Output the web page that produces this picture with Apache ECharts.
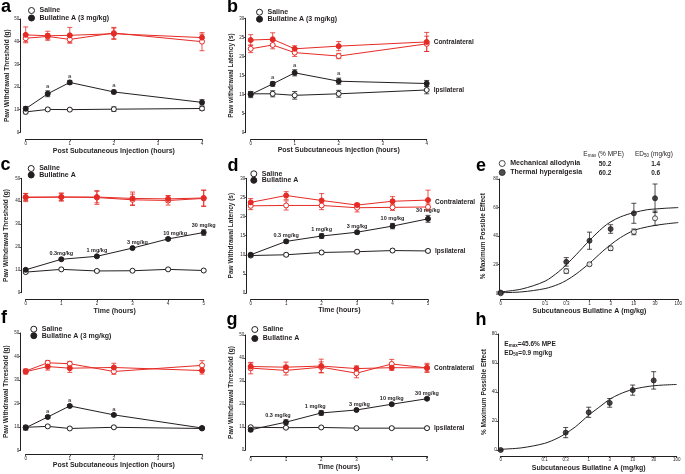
<!DOCTYPE html>
<html>
<head>
<meta charset="utf-8">
<script src="https://cdn.jsdelivr.net/npm/echarts@6/dist/echarts.min.js"></script>
<style>
  html, body { margin: 0; padding: 0; background: #fff; }
  #chart { width: 685px; height: 474px; }
</style>
</head>
<body>
<div id="chart"></div>
<script>
// ---- values ----
const hoursShort = [0, 0.5, 1, 2, 4]
const hoursLong = [0, 1, 2, 3, 4, 5]
const doseX = [0.01, 0.3, 1, 3, 10, 30] // dose 0 sits at the axis origin (0.01)
const doseTicks = [0.01, 0.1, 0.3, 1, 3, 10, 30, 100]
const curveX = [0.01, 0.03, 0.1, 0.2, 0.3, 0.5, 1, 2, 3, 5, 10, 20, 30, 50, 100]

// a: mechanical, 3 mg/kg
const aSal = [9, 10.1, 10, 10.2, 10.5]
const aSalErr = [0.8, 0.6, 0.5, 1, 0.8]
const aBul = [10.4, 17, 22, 17.8, 13.2]
const aBulErr = [1, 1.3, 0.9, 0.8, 1.2]
const aSalC = [41.5, 42.3, 41, 43.8, 40]
const aSalCErr = [1.5, 1.2, 1.3, 2.5, 4]
const aBulC = [43, 42.6, 42.8, 43.5, 41.8]
const aBulCErr = [3.5, 2, 3.5, 2.5, 1.5]
const aTags = ['', 'a', 'a', 'a', '']

// b: thermal, 3 mg/kg
const bSal = [10.2, 10.2, 9.8, 10.2, 11.2]
const bSalErr = [0.6, 0.8, 1, 0.9, 1]
const bBul = [10, 12.8, 15.7, 13.5, 12.9]
const bBulErr = [0.8, 0.6, 0.8, 0.8, 0.8]
const bSalC = [22, 23, 21, 20.1, 23.3]
const bSalCErr = [1, 1, 1, 0.7, 2]
const bBulC = [24.3, 24.5, 22, 22.7, 23.8]
const bBulCErr = [1.4, 1.7, 0.8, 1.2, 2.5]
const bTags = ['', 'a', 'a', 'a', '']

// c: mechanical, cumulative doses
const cSal = [9, 10.2, 9.5, 9.6, 10.2, 9.7]
const cSalErr = [0.5, 0.5, 0.5, 0.5, 0.5, 0.5]
const cBul = [10, 14.6, 15.9, 19.5, 23.5, 26.3]
const cBulErr = [0.5, 0.5, 0.5, 0.6, 0.6, 1.2]
const cSalC = [41.6, 41.8, 41.6, 40.6, 40.3, 41.2]
const cSalCErr = [1.8, 1.8, 3, 2.5, 2, 3.5]
const cBulC = [41.8, 41.8, 41.8, 41.2, 41, 41.4]
const cBulCErr = [1.5, 1.5, 2.5, 2.8, 1.5, 3.5]
const cTags = ['', '0.3mg/kg', '1 mg/kg', '3 mg/kg', '10 mg/kg', '30 mg/kg']

// d: thermal, cumulative doses
const dSal = [9.8, 10, 10.6, 10.8, 11.1, 11]
const dSalErr = [0.4, 0.4, 0.4, 0.4, 0.4, 0.4]
const dBul = [10, 13.5, 14.9, 15.9, 17.5, 19.4]
const dBulErr = [0.4, 0.4, 0.6, 0.4, 0.7, 0.9]
const dSalC = [22.8, 22.9, 22.9, 22.3, 22.4, 22.5]
const dSalCErr = [1, 1.2, 1.1, 1.1, 0.8, 0.8]
const dBulC = [23.7, 25.5, 24.2, 23, 24, 24.3]
const dBulCErr = [1, 1, 1.8, 0.5, 1.2, 2.6]
const dTags = ['', '0.3 mg/kg', '1 mg/kg', '3 mg/kg', '10 mg/kg', '30 mg/kg']

// e: dose response
const eMech = [0, 15.5, 20.3, 31.5, 43, 52.5]
const eMechErr = [0.5, 1.5, 1, 1.5, 2, 5]
const eTherm = [0.5, 22, 36.8, 45, 56, 66.5]
const eThermErr = [0.5, 3, 6, 3, 7, 10]
const eMechCurve = [0.4, 1, 3.3, 6.3, 9, 13.5, 21, 29.5, 34, 39, 44, 46.5, 47.5, 48.5, 49.5]
const eThermCurve = [1, 3, 8.5, 15, 20, 27, 37, 46, 50, 53.5, 56.5, 58.5, 59, 59.5, 60]

// f: mechanical, 3 mg/kg (second model)
const fSal = [9.8, 10.2, 9.3, 9.8, 9.3]
const fSalErr = [0.8, 0.5, 0.5, 0.5, 0.5]
const fBul = [9.6, 14.2, 18.9, 15.1, 9.5]
const fBulErr = [1, 0.6, 0.5, 0.5, 0.5]
const fSalC = [33.8, 37.3, 36.9, 33.6, 36.2]
const fSalCErr = [0.8, 1, 1, 1.2, 2]
const fBulC = [33.5, 35.7, 35, 35.3, 34]
const fBulCErr = [1, 1.5, 1.8, 1.8, 1.5]
const fTags = ['', 'a', 'a', 'a', '']

// g: mechanical, cumulative doses (second model)
const gSal = [9.9, 9.7, 9.8, 9.5, 9.5, 9.5]
const gSalErr = [0.5, 0.5, 0.5, 0.5, 0.5, 0.5]
const gBul = [8.8, 12.1, 16.1, 17.4, 19.9, 22.3]
const gBulErr = [0.8, 1, 1, 0.6, 0.5, 0.5]
const gSalC = [35.6, 34.6, 36, 33.4, 37.4, 35.7]
const gSalCErr = [2.5, 2, 2.3, 2, 2, 1.5]
const gBulC = [36.3, 36, 36.5, 35.4, 35.8, 35.7]
const gBulCErr = [1.5, 2.2, 3, 1.2, 1.2, 2]
const gTags = ['', '0.3 mg/kg', '1 mg/kg', '3 mg/kg', '10 mg/kg', '30 mg/kg']

// h: dose response (second model)
const hVal = [0, 12, 26, 32.5, 41.3, 48]
const hErr = [0.5, 3.5, 3.5, 3, 3.5, 6]
const hCurve = [0.5, 1.5, 4.6, 8.3, 11.4, 16, 24, 31, 35, 38.5, 41.8, 43.6, 44.3, 44.8, 45.2]

// ---- styling ----
const FONT = '"Liberation Sans", Arial, sans-serif'
const BLACK = '#231f20'
const RED = '#e52b25'

const grid = [], xAxis = [], yAxis = [], series = [], legend = []

const makeAxis = (gi, o) => ({
  gridIndex: gi,
  type: o.type || 'value',
  logBase: 10,
  min: o.min, max: o.max, interval: o.interval,
  offset: o.offset,
  name: o.name, nameLocation: 'middle', nameGap: o.nameGap,
  nameTextStyle: { fontFamily: FONT, fontSize: o.nameSize || 7, fontWeight: 'bold', color: BLACK },
  axisLine: { show: true, onZero: false, lineStyle: { color: BLACK, width: 1 } },
  axisTick: { show: true, length: 2, lineStyle: { color: BLACK, width: 0.8 }, customValues: o.ticks },
  axisLabel: { fontFamily: FONT, fontSize: 4.5, color: BLACK, margin: 1.5, customValues: o.ticks, formatter: o.formatter },
  splitLine: { show: false }
})

const addPanel = (box, x, y) => {
  const gi = grid.length
  grid.push({ ...box, containLabel: false })
  xAxis.push(makeAxis(gi, x))
  yAxis.push(makeAxis(gi, y))
  return gi
}

// vertical error bars, optionally with a text tag above the bar
const errorBars = (gi, xs, ys, errs, color, tags, tagFont, tagDx) => ({
  type: 'custom', xAxisIndex: gi, yAxisIndex: gi, silent: true, z: 2,
  data: xs.map((x, i) => [x, ys[i] - errs[i], ys[i] + errs[i], i]),
  renderItem: (params, api) => {
    const lo = api.coord([api.value(0), api.value(1)])
    const hi = api.coord([api.value(0), api.value(2)])
    const st = { stroke: color, lineWidth: 0.8 }
    const children = [
      { type: 'line', shape: { x1: lo[0], y1: lo[1], x2: hi[0], y2: hi[1] }, style: st },
      { type: 'line', shape: { x1: lo[0] - 2.5, y1: lo[1], x2: lo[0] + 2.5, y2: lo[1] }, style: st },
      { type: 'line', shape: { x1: hi[0] - 2.5, y1: hi[1], x2: hi[0] + 2.5, y2: hi[1] }, style: st }
    ]
    const i = api.value(3)
    if (tags && tags[i]) {
      children.push({
        type: 'text', x: hi[0] + ((tagDx && tagDx[i]) || 0), y: hi[1] - 1.5,
        style: { text: tags[i], font: tagFont, fill: BLACK, align: 'center', verticalAlign: 'bottom' }
      })
    }
    return { type: 'group', children }
  }
})

const lineSeries = (gi, name, xs, ys, color, open, side) => {
  const data = xs.map((x, i) => ({ value: [x, ys[i]] }))
  if (side) {
    data[data.length - 1].label = { show: true, position: 'right', distance: 4, formatter: side.text, offset: [0, side.dy || 0] }
  }
  return {
    name, type: 'line', xAxisIndex: gi, yAxisIndex: gi, data,
    symbol: 'circle', symbolSize: 5, clip: false, z: 3,
    itemStyle: { color: open ? '#fff' : color, borderColor: color, borderWidth: 1 },
    lineStyle: { color, width: 1 },
    label: { fontFamily: FONT, fontSize: 6.5, fontWeight: 'bold', color: BLACK },
    emphasis: { disabled: true }, animation: false
  }
}

const timePanel = (gi, xs, sal, salErr, bul, bulErr, salC, salCErr, bulC, bulCErr, opt) => {
  series.push(errorBars(gi, xs, salC, salCErr, RED))
  series.push(errorBars(gi, xs, bulC, bulCErr, RED))
  series.push(errorBars(gi, xs, sal, salErr, BLACK))
  series.push(errorBars(gi, xs, bul, bulErr, BLACK, opt.tags, opt.tagFont, opt.tagDx))
  series.push(lineSeries(gi, 'Saline', xs, salC, RED, true))
  series.push(lineSeries(gi, opt.bulName, xs, bulC, RED, false, opt.sides && { text: 'Contralateral', dy: opt.contraDy }))
  series.push(lineSeries(gi, 'Saline', xs, sal, BLACK, true, opt.sides && { text: 'Ipsilateral' }))
  series.push(lineSeries(gi, opt.bulName, xs, bul, BLACK, false))
}

const dosePanel = (gi, name, ys, errs, curve, open) => {
  series.push(errorBars(gi, doseX, ys, errs, BLACK))
  series.push({
    type: 'line', xAxisIndex: gi, yAxisIndex: gi, data: curveX.map((x, i) => [x, curve[i]]),
    symbol: 'none', smooth: 0.3, lineStyle: { color: BLACK, width: 1 }, z: 2, silent: true, animation: false
  })
  series.push({
    name, type: 'scatter', xAxisIndex: gi, yAxisIndex: gi, data: doseX.map((x, i) => [x, ys[i]]),
    symbol: 'circle', symbolSize: 5, clip: false, z: 3,
    itemStyle: { color: open ? '#fff' : BLACK, borderColor: BLACK, borderWidth: 1 },
    emphasis: { disabled: true }, animation: false
  })
}

const addLegend = (left, top, gap, names) => legend.push({
  left, top, orient: 'vertical', padding: 0, itemGap: gap, itemWidth: 6, itemHeight: 6, selectedMode: false,
  textStyle: { fontFamily: FONT, fontSize: 7, fontWeight: 'bold', color: BLACK },
  data: [
    { name: names[0], icon: 'circle', itemStyle: { color: '#fff', borderColor: BLACK, borderWidth: 1 } },
    { name: names[1], icon: 'circle', itemStyle: { color: BLACK, borderColor: BLACK, borderWidth: 1 } }
  ]
})

const logX = { type: 'log', min: 0.01, max: 100, ticks: doseTicks, formatter: v => (v <= 0.01 ? '0' : String(v)) }
const INJ = 'Post Subcutaneous Injection (hours)'
const THR = 'Paw Withdrawal Threshold (g)'

// a
let gi = addPanel({ left: 25.7, top: 19, width: 176.3, height: 113.3 },
  { min: 0, max: 4, interval: 1, offset: 7, name: INJ, nameGap: 8 },
  { min: 0, max: 50, interval: 10, offset: 5, name: THR, nameGap: 10, nameSize: 6.5 })
timePanel(gi, hoursShort, aSal, aSalErr, aBul, aBulErr, aSalC, aSalCErr, aBulC, aBulCErr,
  { bulName: 'Bullatine A (3 mg/kg)', tags: aTags, tagFont: '6px ' + FONT })
addLegend(28, 7, 0.5, ['Saline', 'Bullatine A (3 mg/kg)'])

// b
gi = addPanel({ left: 250.7, top: 18.3, width: 176, height: 114.4 },
  { min: 0, max: 4, interval: 1, offset: 6.6, name: INJ, nameGap: 7.5 },
  { min: 0, max: 30, interval: 5, offset: 5, name: 'Paw withdrawal Latency (s)', nameGap: 10.5, nameSize: 6.5 })
timePanel(gi, hoursShort, bSal, bSalErr, bBul, bBulErr, bSalC, bSalCErr, bBulC, bBulCErr,
  { bulName: 'Bullatine A (3 mg/kg)', tags: bTags, tagFont: '6px ' + FONT, sides: true })
addLegend(256, 8.7, 0, ['Saline', 'Bullatine A (3 mg/kg)'])

// c
gi = addPanel({ left: 25.7, top: 178.3, width: 178, height: 114.4 },
  { min: 0, max: 5, interval: 1, offset: 6.6, name: 'Time (hours)', nameGap: 8 },
  { min: 0, max: 50, interval: 10, offset: 4, name: THR, nameGap: 12, nameSize: 6.5 })
timePanel(gi, hoursLong, cSal, cSalErr, cBul, cBulErr, cSalC, cSalCErr, cBulC, cBulCErr,
  { bulName: 'Bullatine A', tags: cTags, tagFont: 'bold 5.5px ' + FONT, tagDx: [0, 0, 0, 5, 7, 0] })
addLegend(27.7, 165, -0.5, ['Saline', 'Bullatine A'])

// d
gi = addPanel({ left: 250.7, top: 178.3, width: 177.3, height: 114.7 },
  { min: 0, max: 5, interval: 1, offset: 6.3, name: 'Time (hours)', nameGap: 7 },
  { min: 0, max: 30, interval: 5, offset: 4, name: 'Paw Withdrawal Latency (s)', nameGap: 12, nameSize: 6.5 })
timePanel(gi, hoursLong, dSal, dSalErr, dBul, dBulErr, dSalC, dSalCErr, dBulC, dBulCErr,
  { bulName: 'Bullatine A', tags: dTags, tagFont: 'bold 5.5px ' + FONT, sides: true, contraDy: 2 })
addLegend(250.3, 170.3, -0.5, ['Saline', 'Bullatine A'])

// e
gi = addPanel({ left: 500.7, top: 179, width: 179.3, height: 114.3 },
  { ...logX, offset: 6, name: 'Subcutaneous Bullatine A (mg/kg)', nameGap: 8 },
  { min: 0, max: 80, interval: 20, offset: 1, name: '% Maximum Possible Effect', nameGap: 12.5, nameSize: 6.5 })
dosePanel(gi, 'Mechanical allodynia', eMech, eMechErr, eMechCurve, true)
dosePanel(gi, 'Thermal hyperalgesia', eTherm, eThermErr, eThermCurve, false)
addLegend(498.7, 160, 2, ['Mechanical allodynia', 'Thermal hyperalgesia'])

// f
gi = addPanel({ left: 25.7, top: 333, width: 176.3, height: 117.3 },
  { min: 0, max: 4, interval: 1, offset: 4, name: INJ, nameGap: 5 },
  { min: 0, max: 50, interval: 10, offset: 5, name: THR, nameGap: 11, nameSize: 6.5 })
timePanel(gi, hoursShort, fSal, fSalErr, fBul, fBulErr, fSalC, fSalCErr, fBulC, fBulCErr,
  { bulName: 'Bullatine A (3 mg/kg)', tags: fTags, tagFont: '6px ' + FONT })
addLegend(30.3, 325.7, -0.5, ['Saline', 'Bullatine A (3 mg/kg)'])

// g
gi = addPanel({ left: 250.7, top: 335, width: 176.3, height: 115 },
  { min: 0, max: 5, interval: 1, offset: 6, name: 'Time (hours)', nameGap: 8 },
  { min: 0, max: 50, interval: 10, offset: 5, name: THR, nameGap: 10.5, nameSize: 6.5 })
timePanel(gi, hoursLong, gSal, gSalErr, gBul, gBulErr, gSalC, gSalCErr, gBulC, gBulCErr,
  { bulName: 'Bullatine A', tags: gTags, tagFont: 'bold 5.5px ' + FONT, tagDx: [0, -8, -6, 3, 0, 0], sides: true })
addLegend(251.3, 326, 2, ['Saline', 'Bullatine A'])

// h
gi = addPanel({ left: 500.7, top: 334, width: 176, height: 116 },
  { ...logX, offset: 6, name: 'Subcutaneous Bullatine A (mg/kg)', nameGap: 9 },
  { min: 0, max: 80, interval: 20, offset: 2.4, name: '% Maximum Possible Effect', nameGap: 11, nameSize: 6.5 })
dosePanel(gi, 'Bullatine A', hVal, hErr, hCurve, false)

// panel letters and loose text
const letter = (t, x, y) => ({ type: 'text', x, y, style: { text: t, font: 'bold 18px ' + FONT, fill: '#000', verticalAlign: 'middle' } })
const note = (t, x, y, weight, align) => ({
  type: 'text', x, y,
  style: {
    text: t, fill: BLACK, align: align || 'left', verticalAlign: 'middle',
    rich: {
      n: { fontFamily: FONT, fontSize: 6.5, fontWeight: weight, lineHeight: 8 },
      s: { fontFamily: FONT, fontSize: 4.5, fontWeight: weight, lineHeight: 8, verticalAlign: 'bottom', padding: [3, 0, 0, 0] }
    }
  }
})

const graphic = [
  letter('a', 1, 7.3), letter('b', 227, 7.1), letter('c', 0.5, 165.5), letter('d', 227.5, 166),
  letter('e', 476, 166), letter('f', 1, 318), letter('g', 226.5, 320), letter('h', 475.5, 320.5),
  note('{n|E}{s|max}{n| (% MPE)}', 583.3, 154.3, 'normal'),
  note('{n|ED}{s|50}{n| (mg/kg)}', 635, 154.3, 'normal'),
  note('{n|50.2}', 605, 164, 'bold', 'center'),
  note('{n|60.2}', 605, 173.3, 'bold', 'center'),
  note('{n|1.4}', 655.7, 164, 'bold', 'center'),
  note('{n|0.6}', 655.7, 173.3, 'bold', 'center'),
  note('{n|E}{s|max}{n|=45.6% MPE}', 504.3, 344.3, 'bold'),
  note('{n|ED}{s|50}{n|=0.9 mg/kg}', 504.3, 353.3, 'bold')
]

const chart = echarts.init(document.getElementById('chart'), null, { renderer: 'canvas', width: 685, height: 474 })
chart.setOption({
  backgroundColor: '#fff',
  animation: false,
  textStyle: { fontFamily: FONT },
  grid, xAxis, yAxis, legend, series, graphic
})
</script>
</body>
</html>
